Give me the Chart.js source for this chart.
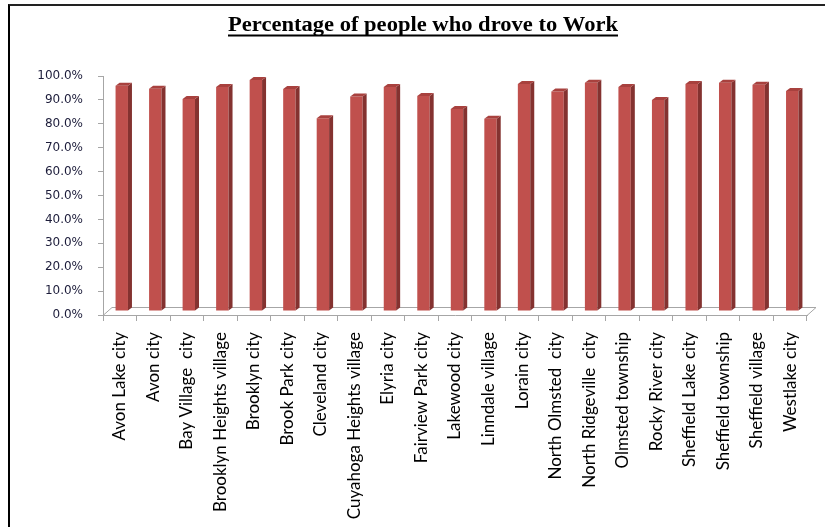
<!DOCTYPE html>
<html>
<head>
<meta charset="utf-8">
<script src="https://cdn.jsdelivr.net/npm/chart.js@4/dist/chart.umd.min.js"></script>
<style>
  html, body { margin: 0; padding: 0; background: #fff; }
  #wrap { position: relative; width: 825px; height: 527px; overflow: hidden; }
  #frame { position: absolute; left: 8px; top: 4px; right: -4px; bottom: -4px;
           border-left: 2px solid #000; border-top: 2px solid #222; pointer-events: none; }
</style>
</head>
<body>
<div id="wrap">
  <canvas id="droveChart" width="825" height="527"></canvas>
  <div id="frame"></div>
</div>
<script>
// places (x axis)
var places = [
    'Avon Lake city', 'Avon city', 'Bay Village  city', 'Brooklyn Heights village',
    'Brooklyn city', 'Brook Park city', 'Cleveland city', 'Cuyahoga Heights village',
    'Elyria city', 'Fairview Park city', 'Lakewood city', 'Linndale village',
    'Lorain city', 'North Olmsted  city', 'North Ridgeville  city', 'Olmsted township',
    'Rocky River city', 'Sheffield Lake city', 'Sheffield township', 'Sheffield village',
    'Westlake city'
];
// percent who drove to work
var droveShare = [
    94.2, 93.0, 88.7, 93.7, 96.7, 92.9, 80.6, 89.7, 93.7, 90.0, 84.5,
    80.4, 95.0, 91.8, 95.5, 93.7, 88.3, 95.0, 95.5, 94.7, 92.1
];
var yTicks = [0, 10, 20, 30, 40, 50, 60, 70, 80, 90, 100];
var chartTitle = 'Percentage of people who drove to Work';

var axisGrey = '#a6a6a6';
var barFront = '#c0504d';
var barSide = '#843230';
var barTop = '#a8413e';

// depth of the fake 3d look
var floorDx = 9, floorDy = 8;
var barShiftX = 2, barShiftY = 4;
var sideDx = 4, sideDy = 3;

var titlePlugin = {
    id: 'underlinedTitle',
    afterDraw: function(chart) {
        var ctx = chart.ctx;
        ctx.save();
        ctx.font = 'bold 20px "Liberation Serif", serif';
        var w = ctx.measureText(chartTitle).width;
        var target = 390;
        var sx = target / w;
        var cx = 423, base = 31;
        ctx.translate(cx - target / 2, base);
        ctx.scale(sx, 1);
        ctx.fillStyle = '#000';
        ctx.textBaseline = 'alphabetic';
        ctx.fillText(chartTitle, 0, 0);
        ctx.restore();
        ctx.fillStyle = '#000';
        ctx.fillRect(cx - target / 2, 34.5, target, 2);
    }
};

var bar3dPlugin = {
    id: 'bar3d',
    beforeDatasetsDraw: function(chart) {
        var ctx = chart.ctx;
        var a = chart.chartArea;
        // floor
        ctx.save();
        ctx.strokeStyle = axisGrey;
        ctx.lineWidth = 1;
        ctx.beginPath();
        ctx.moveTo(a.left, a.bottom + 0.5);
        ctx.lineTo(a.left + floorDx, a.bottom - floorDy + 0.5);
        ctx.lineTo(a.right + floorDx, a.bottom - floorDy + 0.5);
        ctx.lineTo(a.right, a.bottom + 0.5);
        ctx.stroke();
        ctx.restore();
        ctx.save();
        ctx.translate(barShiftX, -barShiftY);
    },
    afterDatasetsDraw: function(chart) {
        var ctx = chart.ctx;
        var meta = chart.getDatasetMeta(0);
        meta.data.forEach(function(bar) {
            var p = bar.getProps(['x', 'y', 'base', 'width'], true);
            var l = p.x - p.width / 2, r = p.x + p.width / 2;
            ctx.fillStyle = barSide;
            ctx.beginPath();
            ctx.moveTo(r, p.y);
            ctx.lineTo(r + sideDx, p.y - sideDy);
            ctx.lineTo(r + sideDx, p.base - sideDy);
            ctx.lineTo(r, p.base);
            ctx.closePath();
            ctx.fill();
            ctx.fillStyle = barTop;
            ctx.beginPath();
            ctx.moveTo(l, p.y);
            ctx.lineTo(l + sideDx, p.y - sideDy);
            ctx.lineTo(r + sideDx, p.y - sideDy);
            ctx.lineTo(r, p.y);
            ctx.closePath();
            ctx.fill();
        });
        ctx.restore();
    }
};

var ctx = document.getElementById('droveChart').getContext('2d');
var droveChart = new Chart(ctx, {
    type: 'bar',
    data: {
        labels: places,
        datasets: [{
            label: 'Drove to work',
            data: droveShare,
            backgroundColor: barFront,
            borderWidth: 0,
            categoryPercentage: 1.0,
            barPercentage: 0.37
        }]
    },
    options: {
        responsive: false,
        animation: false,
        layout: { padding: { top: 76, right: 18, left: 0, bottom: 0 } },
        plugins: {
            legend: { display: false },
            tooltip: { enabled: false },
            title: { display: false }
        },
        scales: {
            x: {
                offset: true,
                grid: { display: true, drawOnChartArea: false, drawTicks: true, tickLength: 6, color: axisGrey, offset: true },
                border: { color: axisGrey },
                ticks: {
                    autoSkip: false,
                    minRotation: 90,
                    maxRotation: 90,
                    padding: 11,
                    color: '#000',
                    font: { family: 'Lato', size: 17 }
                },
                afterFit: function(scale) { scale.height = 212; }
            },
            y: {
                min: 0,
                max: 100,
                afterBuildTicks: function(scale) {
                    scale.ticks = yTicks.map(function(v) { return { value: v }; });
                },
                grid: { display: true, drawOnChartArea: false, drawTicks: true, tickLength: 5, color: axisGrey },
                border: { color: axisGrey },
                ticks: {
                    padding: 15,
                    color: '#1c1c3a',
                    font: { family: 'DejaVu Sans', size: 12 },
                    callback: function(v) { return v.toFixed(1) + '%'; }
                },
                afterFit: function(scale) { scale.width = 103; }
            }
        }
    },
    plugins: [bar3dPlugin, titlePlugin]
});
</script>
</body>
</html>
